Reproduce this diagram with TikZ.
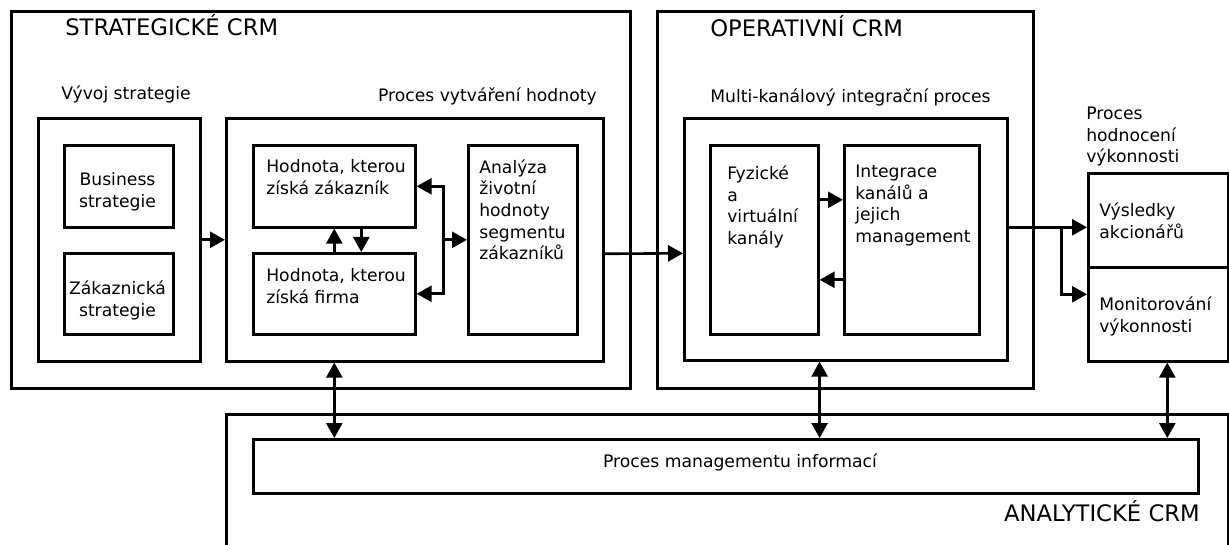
\documentclass[tikz,border=0pt]{standalone}
\usepackage{fontspec}
\setmainfont{DejaVu Sans}
\usetikzlibrary{arrows.meta}

\begin{document}
\begin{tikzpicture}[x=1pt,y=-1pt,line width=2.6pt,
	>={Triangle[length=15pt,width=16pt]},
	box/.style={draw,inner sep=0pt,anchor=north west},
	dims/.style 2 args={minimum width=#1pt,minimum height=#2pt},
	txt/.style={inner sep=0pt,align=left,font=\fontsize{17.2}{21.7}\selectfont},
	ttl/.style={inner sep=0pt,font=\fontsize{22.7}{27}\selectfont}]
			\clip (0,0) rectangle (1229,545);
			% strategicke CRM
			\node[box,dims={619}{377}] (strat) at (10,10) {};
			\node[box,dims={162}{243}] (vyvoj) at (37,117) {};
			\node[box,dims={109}{82}] (business) at (63,144) {};
			\node[box,dims={109}{81}] (zakaz) at (63,252) {};
			\node[box,dims={377}{243}] (hodnota) at (225,117) {};
			\node[box,dims={162}{82}] (hzak) at (252,144) {};
			\node[box,dims={162}{81}] (hfirma) at (252,252) {};
			\node[box,dims={109}{189}] (analyza) at (467,144) {};
			% operativni CRM
			\node[box,dims={376}{377}] (oper) at (656,10) {};
			\node[box,dims={323}{242}] (multi) at (683,117) {};
			\node[box,dims={108}{189}] (fyz) at (709,144) {};
			\node[box,dims={135}{189}] (integ) at (843,144) {};
			\node[box,dims={140}{94}] (vysl) at (1087,172) {};
			\node[box,dims={140}{94}] (monit) at (1087,266) {};
			% analyticke CRM
			\node[box,dims={1002}{200}] (anal) at (225,413) {};
			\node[box,dims={945}{54}] (info) at (252,438) {};

			\node[ttl,anchor=base west] (tStrat) at (64,36) {STRATEGICKÉ CRM};
			\node[ttl,anchor=base west] (tOper) at (709,37) {OPERATIVNÍ CRM};
			\node[ttl,anchor=base east] (tAnal) at (1201,521) {ANALYTICKÉ CRM};
			\node[txt,anchor=base west] (tVyvoj) at (60,100) {Vývoj strategie};
			\node[txt,anchor=base east] (tHodnota) at (598,102) {Proces vytváření hodnoty};
			\node[txt,anchor=base west] (tMulti) at (709,103) {Multi-kanálový integrační proces};
			\node[txt,align=center,anchor=north] (tBusiness) at (117.5,171.5) {Business\\strategie};
			\node[txt,align=center,anchor=north] (tZakaz) at (117.5,279.5) {Zákaznická\\strategie};
			\node[txt,anchor=north west] (tHzak) at (265,158.5) {Hodnota, kterou\\získá zákazník};
			\node[txt,anchor=north west] (tHfirma) at (265,267.5) {Hodnota, kterou\\získá firma};
			\node[txt,anchor=north west] (tAnalyza) at (478,158) {Analýza\\životní\\hodnoty\\segmentu\\zákazníků};
			\node[txt,anchor=north west] (tFyz) at (726,164.5) {Fyzické\\a\\virtuální\\kanály};
			\node[txt,anchor=north west] (tInteg) at (854,163.5) {Integrace\\kanálů a\\jejich\\management};
			\node[txt,anchor=north west] (tHodnoceni) at (1085,105.5) {Proces\\hodnocení\\výkonnosti};
			\node[txt,anchor=north west] (tVysl) at (1098,201.5) {Výsledky\\akcionářů};
			\node[txt,anchor=north west] (tMonit) at (1098,295.5) {Monitorování\\výkonnosti};
			\node[txt] (tInfo) at (740,462) {Proces managementu informací};

			\path[->]
			(vyvoj) edge (hodnota)
			(hfirma) edge (hzak)
			([xshift=27pt]hzak.south) edge ([xshift=27pt]hfirma.north)
			([yshift=-14pt]hodnota.east) edge ([yshift=-14pt]multi.west)
			([yshift=40pt]fyz.east) edge ([yshift=40pt]integ.west)
			([yshift=-40pt]integ.west) edge ([yshift=-40pt]fyz.east);

			\coordinate[xshift=27pt] (join) at (hzak.east |- analyza.west);
			\draw[<->] (hzak.east) -| (join) |- (hfirma.east);
			\draw[->] (join) -- (analyza.west);

			\coordinate[yshift=12pt] (outR) at (multi.east);
			\coordinate[xshift=53pt] (fork) at (outR);
			\draw[->] (outR) -- (vysl.west |- outR);
			\draw[->] (fork) |- ([yshift=20pt]monit.west);

			\coordinate[xshift=9pt] (monS) at (monit.south);
			\path[<->]
			(hfirma.south |- hodnota.south) edge (hfirma.south |- info.north)
			(fyz.east |- multi.south) edge (fyz.east |- info.north)
			(monS) edge (monS |- info.north);
		\end{tikzpicture}
\end{document}
